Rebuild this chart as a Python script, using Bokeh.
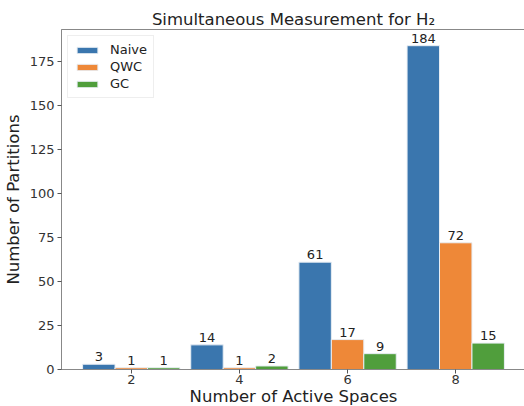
from bokeh.plotting import figure
from bokeh.models import Range1d, FixedTicker, Legend, LegendItem, ColumnDataSource
from bokeh.core.properties import value
from bokeh.embed import file_html
from bokeh.resources import INLINE

# Number of active spaces and partition counts per grouping strategy
active_spaces = [2, 4, 6, 8]
naive = [3, 14, 61, 184]
qwc = [1, 1, 17, 72]
gc = [1, 2, 9, 15]
series_names = ["Naive", "QWC", "GC"]
series_colors = ["#3a76ae", "#ee8838", "#509e3c"]
y_ticks = [0, 25, 50, 75, 100, 125, 150, 175]

bar_w = 0.6
offsets = [-bar_w, 0.0, bar_w]
FONT = "DejaVu Sans"

p = figure(frame_width=464, frame_height=340, output_backend="svg", toolbar_location=None,
           x_range=Range1d(0.71, 9.29), y_range=Range1d(0, max(naive) * 1.05),
           min_border_left=58, min_border_right=2, min_border_top=29, min_border_bottom=0)

p.title.text = "Simultaneous Measurement for H\u2082"
p.title.align = "center"
p.title.text_font = FONT
p.title.text_font_size = "16.5px"
p.title.text_font_style = "normal"
p.title.text_color = "#222222"
p.title.standoff = 2

p.xgrid.visible = False
p.ygrid.visible = False
p.outline_line_color = "#888888"
p.outline_line_width = 1

for ax in (p.xaxis, p.yaxis):
    ax.axis_line_color = "#888888"
    ax.major_tick_line_color = "#555555"
    ax.minor_tick_line_color = None
    ax.major_tick_out = 4
    ax.major_tick_in = 0
    ax.major_label_text_font = FONT
    ax.major_label_text_font_size = "13px"
    ax.major_label_text_color = "#333333"
    ax.axis_label_text_font = FONT
    ax.axis_label_text_font_size = "16.5px"
    ax.axis_label_text_font_style = "normal"
    ax.axis_label_text_color = "#222222"

p.xaxis.ticker = FixedTicker(ticks=active_spaces)
p.yaxis.ticker = FixedTicker(ticks=y_ticks)
p.xaxis.axis_label = "Number of Active Spaces"
p.yaxis.axis_label = "Number of Partitions"
p.xaxis.axis_label_standoff = 0
p.yaxis.axis_label_standoff = 4
p.xaxis.major_label_standoff = 1
p.yaxis.major_label_standoff = 3

items = []
for name, vals, off, col in zip(series_names, [naive, qwc, gc], offsets, series_colors):
    src = ColumnDataSource(dict(
        x=[a + off for a in active_spaces],
        top=vals,
        label=[str(v) for v in vals],
    ))
    r = p.vbar(x="x", top="top", width=bar_w, source=src, fill_color=col,
               line_color="#e8eef4", line_width=1)
    p.text(x="x", y="top", text="label", source=src, text_align="center",
           text_baseline="bottom", y_offset=-3, text_font_size="13px",
           text_color="#222222", text_font=value(FONT))
    items.append(LegendItem(label=name, renderers=[r]))

legend = Legend(items=items, location="top_left")
legend.label_text_font = FONT
legend.label_text_font_size = "13px"
legend.label_text_color = "#222222"
legend.glyph_width = 26
legend.glyph_height = 8
legend.spacing = 2
legend.padding = 6
legend.margin = 6
legend.border_line_color = "#dddddd"
legend.label_standoff = 10
p.add_layout(legend)

open("out.html", "w").write(file_html(p, INLINE))
